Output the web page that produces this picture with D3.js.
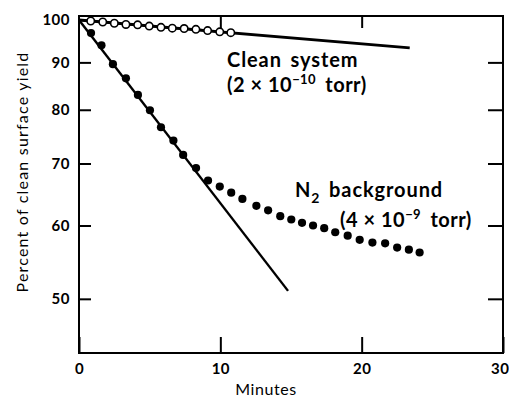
<!DOCTYPE html>
<html><head><meta charset="utf-8">
<script src="https://cdn.jsdelivr.net/npm/d3@7"></script>
<style>
body{margin:0;background:#fff;}
text{font-family:Lato,"Open Sans",sans-serif;fill:#000;}
</style></head>
<body><svg id="c" width="509" height="398"></svg>
<script>
// Data (minutes, percent)
const cleanT = [0.83,1.68,2.5,3.32,4.15,4.97,5.8,6.6,7.44,8.27,9.1,9.96,10.74];
const cleanV = [99.75,99.5,99.2,98.9,98.8,98.5,98.2,98.0,97.9,97.7,97.4,97.1,96.9];
const cleanFitT = [0, 23.4];
const cleanFitV = [100, 93.3];
const n2T = [0.85,1.59,2.40,3.32,4.17,5.02,5.80,6.68,7.37,8.28,9.13,9.96,10.77,11.56,12.55,13.38,14.24,15.02,15.78,16.56,17.35,18.13,19.01,19.86,20.76,21.66,22.51,23.34,24.10];
const n2V = [96.8,93.9,89.6,86.5,83.0,79.9,76.6,74.1,71.5,69.2,67.1,66.1,65.1,64.1,63.0,62.3,61.4,60.9,60.4,60.0,59.6,59.0,58.5,57.9,57.5,57.4,56.8,56.5,56.1];
const n2FitT = [0, 14.79];
const n2FitV = [100, 51.0];
const xTicks = [0,10,20,30];
const yTicks = [100,90,80,70,60,50];

const svg = d3.select("#c");
const L=79,R=503,T=16,B=353;
const x = d3.scaleLinear().domain([0,30]).range([L,R]);
const y = d3.scaleLog().domain([43.7,101]).range([B,T]);

// frame
svg.append("rect").attr("x",L).attr("y",T).attr("width",R-L).attr("height",B-T)
  .attr("fill","none").attr("stroke","#000").attr("stroke-width",2);

// axes
const gBottom = svg.append("g").attr("transform",`translate(0,${B})`)
  .call(d3.axisBottom(x).tickValues(xTicks).tickSizeInner(-16).tickSizeOuter(0).tickPadding(10));
const gTop = svg.append("g").attr("transform",`translate(0,${T})`)
  .call(d3.axisTop(x).tickValues([10,20]).tickSizeInner(-12).tickSizeOuter(0).tickFormat(""));
const gLeft = svg.append("g").attr("transform",`translate(${L},0)`)
  .call(d3.axisLeft(y).tickValues(yTicks).tickFormat(d3.format("d")).tickSizeInner(-12).tickSizeOuter(0).tickPadding(9));
const gRight = svg.append("g").attr("transform",`translate(${R},0)`)
  .call(d3.axisRight(y).tickValues(yTicks.slice(1)).tickSizeInner(-15).tickSizeOuter(0).tickFormat(""));
[gBottom,gTop,gLeft,gRight].forEach(g=>{
  g.select(".domain").remove();
  g.selectAll(".tick line").attr("stroke","#000").attr("stroke-width",2);
  g.selectAll(".tick text").attr("font-size",15).attr("font-weight","bold").attr("fill","#000")
    .attr("letter-spacing",0.5).style("font-family","Lato, sans-serif");
});
gLeft.selectAll(".tick line").filter(d=>d===100).remove();
gLeft.selectAll(".tick text").attr("x",-9);
gBottom.selectAll(".tick text").filter(d=>d===30).attr("text-anchor","end").attr("x",6);

// fit lines
const line = d3.line().x(d=>x(d[0])).y(d=>y(d[1]));
svg.append("path").datum(cleanFitT.map((t,i)=>[t,cleanFitV[i]])).attr("d",line)
  .attr("fill","none").attr("stroke","#000").attr("stroke-width",2.8);
svg.append("path").datum(n2FitT.map((t,i)=>[t,n2FitV[i]])).attr("d",line)
  .attr("fill","none").attr("stroke","#000").attr("stroke-width",2.4);
svg.append("path").datum([[0,100]].concat(cleanT.map((t,i)=>[t,cleanV[i]]))).attr("d",line)
  .attr("fill","none").attr("stroke","#000").attr("stroke-width",2);

// points
svg.selectAll("circle.cl").data(cleanT).join("circle").attr("class","cl")
  .attr("cx",d=>x(d)).attr("cy",(d,i)=>y(cleanV[i])).attr("r",3.7)
  .attr("fill","#fff").attr("stroke","#000").attr("stroke-width",1.6);
svg.selectAll("circle.n2").data(n2T).join("circle").attr("class","n2")
  .attr("cx",d=>x(d)).attr("cy",(d,i)=>y(n2V[i])).attr("r",4.1).attr("fill","#000");

// annotations
function lab(xp,yp,parts,ls,ws){
  const t=svg.append("text").attr("x",xp).attr("y",yp).attr("font-size",20).attr("font-weight","bold")
    .attr("letter-spacing",ls).attr("word-spacing",ws);
  parts.forEach(p=>{
    const s=t.append("tspan").text(p.t);
    if(p.sup){s.attr("font-size",13).attr("dy",-8).attr("letter-spacing",0.4);}
    if(p.sub){s.attr("font-size",14).attr("dy",6);}
    if(p.back){s.attr("dy",p.back);}
    if(p.dx){s.attr("dx",p.dx);}
  });
  return t;
}
lab(227,67,[{t:"Clean system"}],0.9,3);
lab(227,92,[{t:"(2 × 10"},{t:"−10",sup:true},{t:" torr)",back:8,dx:4}],0.5,0);
lab(295,197,[{t:"N"},{t:"2",sub:true},{t:" background",back:-6}],0.9,3);
lab(340,227,[{t:"(4 × 10"},{t:"−9",sup:true},{t:" torr)",back:8,dx:4}],0.5,0);

svg.append("text").attr("x",266).attr("y",395).attr("text-anchor","middle")
  .attr("font-size",16).attr("letter-spacing",0.6).text("Minutes");
svg.append("text").attr("transform","translate(28,172) rotate(-90)").attr("text-anchor","middle")
  .attr("font-size",16).attr("letter-spacing",1.2).text("Percent of clean surface yield");
</script></body></html>
